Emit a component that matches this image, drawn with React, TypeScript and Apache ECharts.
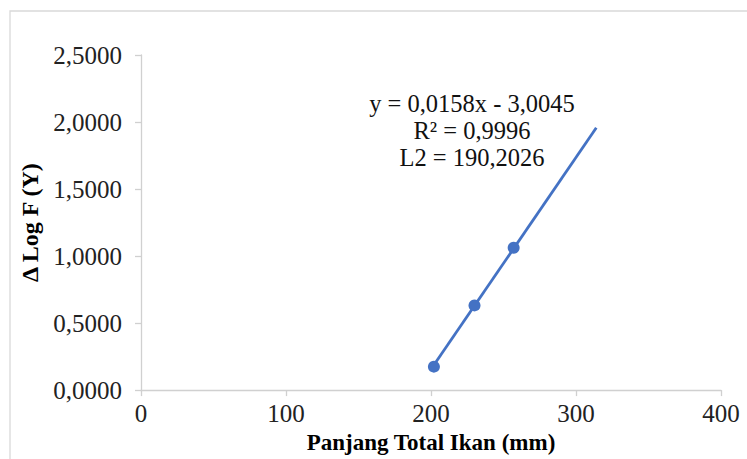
import React, { useEffect, useRef } from "react";
import * as echarts from "echarts";

const panjang = [202, 230, 257];
const deltaLogF = [0.175, 0.632, 1.062];
const slope = [0.0158];
const intercept = [-3.0045];
const trendRange = [202, 314];
const annotationLines = ["y = 0,0158x - 3,0045", "R² = 0,9996", "L2 = 190,2026"];
const xTicks = [0, 100, 200, 300, 400];
const yTicks = [0, 0.5, 1, 1.5, 2, 2.5];

const FONT = "'Liberation Serif', 'Times New Roman', serif";
const BLUE = "#4472C4";

export default function App() {
  const ref = useRef<HTMLDivElement>(null);
  useEffect(() => {
    if (!ref.current) return;
    const chart = echarts.init(ref.current, null, { renderer: "svg" });
    const trend = trendRange.map((x) => [x, slope[0] * x + intercept[0]]);
    chart.setOption({
      animation: false,
      backgroundColor: "#ffffff",
      grid: { left: 141, right: 26, top: 55, bottom: 68 },
      xAxis: {
        type: "value",
        min: xTicks[0],
        max: xTicks[xTicks.length - 1],
        interval: 100,
        name: "Panjang Total Ikan (mm)",
        nameLocation: "middle",
        nameGap: 37,
        nameTextStyle: { fontFamily: FONT, fontSize: 23, fontWeight: "bold", color: "#000" },
        axisLine: { show: true, lineStyle: { color: "#d0d0d0", width: 1.3 } },
        axisTick: { show: true, length: 6, lineStyle: { color: "#d0d0d0", width: 1.3 } },
        splitLine: { show: false },
        axisLabel: { fontFamily: FONT, fontSize: 25, color: "#222", margin: 11 },
      },
      yAxis: {
        type: "value",
        min: yTicks[0],
        max: yTicks[yTicks.length - 1],
        interval: 0.5,
        name: "Δ Log F (Y)",
        nameLocation: "middle",
        nameGap: 98,
        nameRotate: 90,
        nameTextStyle: { fontFamily: FONT, fontSize: 24, fontWeight: "bold", color: "#000" },
        axisLine: { show: true, lineStyle: { color: "#d0d0d0", width: 1.3 } },
        axisTick: { show: true, length: 6, lineStyle: { color: "#d0d0d0", width: 1.3 } },
        splitLine: { show: false },
        axisLabel: {
          fontFamily: FONT,
          fontSize: 25,
          color: "#222",
          margin: 19,
          formatter: (v: number) => v.toFixed(4).replace(".", ","),
        },
      },
      graphic: [
        {
          type: "rect",
          shape: { x: 10, y: 11, width: 800, height: 500 },
          style: { fill: "none", stroke: "#d9d9d9", lineWidth: 1.3 },
          silent: true,
        },
        ...annotationLines.map((t, i) => ({
          type: "text",
          x: 472,
          y: 103 + i * 27,
          style: {
            text: t,
            fontFamily: FONT,
            fontSize: 24.5,
            fill: "#111",
            textAlign: "center",
            textVerticalAlign: "middle",
          },
        })),
      ],
      series: [
        {
          type: "line",
          data: trend,
          symbol: "none",
          lineStyle: { color: BLUE, width: 2.8 },
          z: 2,
        },
        {
          type: "scatter",
          data: panjang.map((x, i) => [x, deltaLogF[i]]),
          symbol: "circle",
          symbolSize: 12,
          itemStyle: { color: BLUE, opacity: 1 },
          z: 3,
        },
      ],
    });
    return () => chart.dispose();
  }, []);
  return (
    <div
      ref={ref}
      style={{ position: "fixed", left: 0, top: 0, width: 747, height: 459 }}
    />
  );
}
